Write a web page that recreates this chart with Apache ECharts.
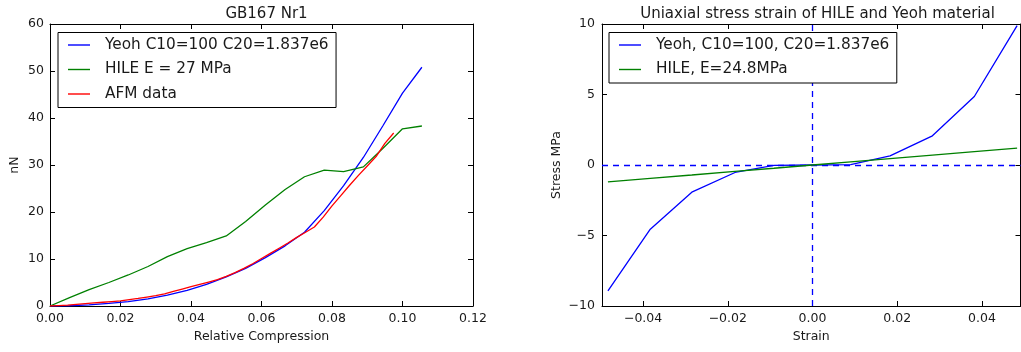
<!DOCTYPE html>
<html>
<head>
<meta charset="utf-8">
<script src="https://cdn.jsdelivr.net/npm/echarts@6/dist/echarts.min.js"></script>
<style>
  html, body { margin: 0; padding: 0; background: #fff; }
  #chart { width: 1021px; height: 352px; }
</style>
</head>
<body>
<div id="chart"></div>
<script>
// Left panel: force vs. relative compression
const compression = [0, 0.00555, 0.0111, 0.0167, 0.0222, 0.0278, 0.0333, 0.0389, 0.0444, 0.05,
                     0.0555, 0.0611, 0.0667, 0.0722, 0.0778, 0.0833, 0.0889, 0.0944, 0.1, 0.1055];
const yeohForce = [0, 0.05, 0.25, 0.55, 0.95, 1.5, 2.3, 3.3, 4.6, 6.2,
                   8.0, 10.3, 12.8, 15.7, 20.3, 25.6, 31.6, 38.3, 45.3, 50.8];
const hileForce = [0, 1.8, 3.5, 5.0, 6.6, 8.4, 10.5, 12.2, 13.5, 14.9,
                   18.0, 21.5, 24.8, 27.5, 28.9, 28.6, 29.6, 33.5, 37.7, 38.3];
const afmCompression = [0, 0.0025, 0.005, 0.0075, 0.01, 0.0125, 0.015, 0.0175, 0.02, 0.0225,
                        0.025, 0.0275, 0.03, 0.0325, 0.035, 0.0375, 0.04, 0.0425, 0.045, 0.0475,
                        0.05, 0.0525, 0.055, 0.0575, 0.06, 0.0625, 0.065, 0.0675, 0.07, 0.0725,
                        0.075, 0.0775, 0.08, 0.0825, 0.085, 0.0875, 0.09, 0.0925, 0.095, 0.0975];
const afmForce = [0, 0.1, 0.2, 0.35, 0.5, 0.65, 0.8, 0.95, 1.1, 1.35,
                  1.6, 1.9, 2.2, 2.6, 3.1, 3.6, 4.1, 4.6, 5.1, 5.6,
                  6.3, 7.1, 8.0, 9.0, 10.1, 11.2, 12.3, 13.4, 14.6, 15.7,
                  16.8, 18.9, 21.3, 23.5, 25.7, 27.8, 29.8, 31.8, 34.6, 36.8];

// Right panel: uniaxial stress vs. strain
const strain = [-0.0483, -0.0383, -0.0285, -0.0183, -0.0091, 0, 0.0090, 0.0183, 0.0283, 0.0382, 0.0483];
const yeohStress = [-8.93, -4.55, -1.93, -0.53, -0.03, 0, 0.03, 0.65, 2.07, 4.86, 9.88];
const hileStress = [-1.20, -0.95, -0.71, -0.45, -0.23, 0, 0.22, 0.45, 0.70, 0.95, 1.20];

const strainTicks = [-0.04, -0.02, 0, 0.02, 0.04];

const leftNames = ['Yeoh C10=100 C20=1.837e6', 'HILE E = 27 MPa', 'AFM data'];
const rightNames = ['Yeoh, C10=100, C20=1.837e6', 'HILE, E=24.8MPa'];

const FONT = 'DejaVu Sans';
const TEXT = '#1a1a1a';
const BLUE = '#0000ff', GREEN = '#008000', RED = '#ff0000';

const pairs = (xs, ys) => xs.map((x, i) => [x, ys[i]]);
const minus = s => String(s).replace('-', '\u2212');

function frameAxis(extra) {
  return Object.assign({
    type: 'value',
    axisLine: { show: true, onZero: false, lineStyle: { color: '#000', width: 1 } },
    axisTick: { show: true, inside: true, length: 5, lineStyle: { color: '#000', width: 1 } },
    splitLine: { show: false },
    axisLabel: { show: true, color: TEXT, fontFamily: FONT, fontSize: 12.5 },
    nameTextStyle: { color: TEXT, fontFamily: FONT, fontSize: 12.5 }
  }, extra);
}

function legendBox(names, left) {
  return {
    data: names,
    orient: 'vertical',
    left: left,
    top: 32.5,
    z: 20,
    icon: 'rect',
    itemWidth: 22,
    itemHeight: 1.4,
    itemGap: 9.5,
    padding: [5, 7.5, 6, 10],
    borderColor: '#000',
    borderWidth: 1,
    backgroundColor: '#fff',
    selectedMode: false,
    formatter: '{t|{name}}',
    textStyle: {
      color: TEXT, fontFamily: FONT, fontSize: 15.3,
      rich: { t: { fontFamily: FONT, fontSize: 15.3, padding: [0, 0, 0, 10], color: TEXT } }
    }
  };
}

const lineSeries = (name, xi, yi, data, color) => ({
  name, type: 'line', xAxisIndex: xi, yAxisIndex: yi, data, z: 2,
  showSymbol: false, symbol: 'none', smooth: false, silent: true,
  lineStyle: { color, width: 1.3 }, itemStyle: { color }
});

const chart = echarts.init(document.getElementById('chart'), null, { renderer: 'canvas' });

chart.setOption({
  animation: false,
  backgroundColor: '#fff',
  title: [
    { text: 'GB167 Nr1', left: 261.5, top: 2, textAlign: 'center',
      textStyle: { fontFamily: FONT, fontSize: 15, fontWeight: 'normal', color: TEXT } },
    { text: 'Uniaxial stress strain of HILE and Yeoh material', left: 812.5, top: 2, textAlign: 'center',
      textStyle: { fontFamily: FONT, fontSize: 15, fontWeight: 'normal', color: TEXT } }
  ],
  legend: [legendBox(leftNames, 58), legendBox(rightNames, 609)],
  grid: [
    { left: 50, top: 24, width: 423, height: 282 },
    { left: 602, top: 24, width: 418.5, height: 282 }
  ],
  xAxis: [
    frameAxis({ gridIndex: 0, position: 'bottom', min: 0, max: 0.12, interval: 0.02,
      name: 'Relative Compression', nameLocation: 'middle', nameGap: 23,
      axisLabel: { color: TEXT, fontFamily: FONT, fontSize: 12.5, margin: 6, formatter: v => v.toFixed(2) } }),
    frameAxis({ gridIndex: 0, position: 'top', min: 0, max: 0.12, interval: 0.02,
      axisLabel: { show: false } }),
    frameAxis({ gridIndex: 1, position: 'bottom', min: -0.0497, max: 0.0491,
      name: 'Strain', nameLocation: 'middle', nameGap: 23,
      axisTick: { show: true, inside: true, length: 5, customValues: strainTicks, lineStyle: { color: '#000' } },
      axisLabel: { color: TEXT, fontFamily: FONT, fontSize: 12.5, margin: 6, customValues: strainTicks,
        formatter: v => minus(v.toFixed(2)) } }),
    frameAxis({ gridIndex: 1, position: 'top', min: -0.0497, max: 0.0491,
      axisTick: { show: true, inside: true, length: 5, customValues: strainTicks, lineStyle: { color: '#000' } },
      axisLabel: { show: false } })
  ],
  yAxis: [
    frameAxis({ gridIndex: 0, position: 'left', min: 0, max: 60, interval: 10,
      name: 'nN', nameLocation: 'middle', nameGap: 29,
      axisLabel: { color: TEXT, fontFamily: FONT, fontSize: 12.5, margin: 6 } }),
    frameAxis({ gridIndex: 0, position: 'right', min: 0, max: 60, interval: 10,
      axisLabel: { show: false } }),
    frameAxis({ gridIndex: 1, position: 'left', min: -10, max: 10, interval: 5,
      name: 'Stress MPa', nameLocation: 'middle', nameGap: 39,
      axisLabel: { color: TEXT, fontFamily: FONT, fontSize: 12.5, margin: 7, formatter: v => minus(v) } }),
    frameAxis({ gridIndex: 1, position: 'right', min: -10, max: 10, interval: 5,
      axisLabel: { show: false } })
  ],
  series: [
    lineSeries(leftNames[0], 0, 0, pairs(compression, yeohForce), BLUE),
    lineSeries(leftNames[1], 0, 0, pairs(compression, hileForce), GREEN),
    lineSeries(leftNames[2], 0, 0, pairs(afmCompression, afmForce), RED),
    Object.assign(lineSeries(rightNames[0], 2, 2, pairs(strain, yeohStress), BLUE), {
      markLine: {
        silent: true, symbol: 'none', animation: false, z: 1,
        label: { show: false },
        lineStyle: { color: BLUE, type: [6, 5], width: 1.3 },
        data: [{ xAxis: 0 }, { yAxis: 0 }]
      }
    }),
    lineSeries(rightNames[1], 2, 2, pairs(strain, hileStress), GREEN)
  ]
});
</script>
</body>
</html>
